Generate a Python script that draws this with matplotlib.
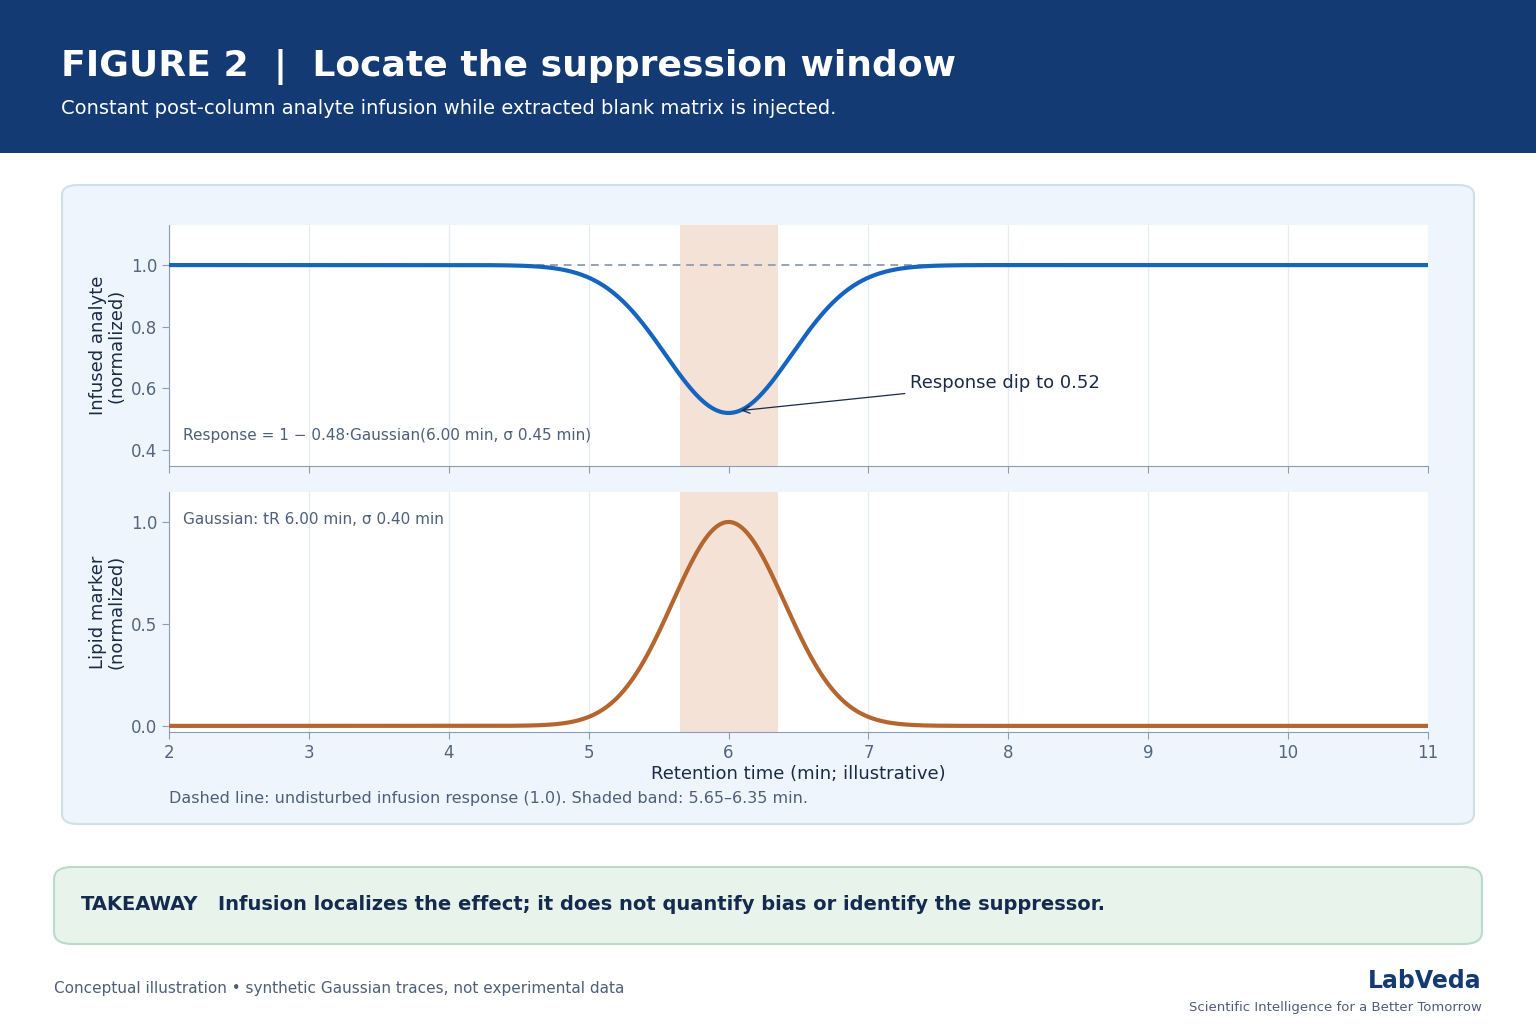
"""Figure 2: post-column infusion suppression window."""

import matplotlib

matplotlib.use("Agg")

import matplotlib.pyplot as plt
import numpy as np
from matplotlib.patches import FancyBboxPatch, Rectangle

# Trace parameters as stated on the chart.
DIP_CENTER = 6.00
DIP_SIGMA = 0.45
DIP_DEPTH = 0.48
LIPID_CENTER = 6.00
LIPID_SIGMA = 0.40
BAND = (5.65, 6.35)
BASELINE = 1.0
DIP_LABEL_VALUE = 0.52

X_TICKS = [2, 3, 4, 5, 6, 7, 8, 9, 10, 11]
TOP_YTICKS = [0.4, 0.6, 0.8, 1.0]
BOTTOM_YTICKS = [0.0, 0.5, 1.0]

NAVY = "#143A73"
INK = "#1B2A47"
MUTED = "#4E5F7A"
BLUE = "#1565C0"
COPPER = "#B5652E"
BAND_COLOR = "#F5E2D7"
SPINE = "#8B9CB6"
GRID = "#E6EBF1"

W, H = 1536, 1024


def px(x, y):
    """Pixel (top-left origin) to figure fraction."""
    return x / W, 1 - y / H


def gaussian(t, center, sigma):
    return np.exp(-0.5 * ((t - center) / sigma) ** 2)


t = np.linspace(X_TICKS[0], X_TICKS[-1], 900)
response = BASELINE - DIP_DEPTH * gaussian(t, DIP_CENTER, DIP_SIGMA)
lipid = gaussian(t, LIPID_CENTER, LIPID_SIGMA)

fig = plt.figure(figsize=(W / 100, H / 100), dpi=100)
fig.patch.set_facecolor("white")

# Header band.
fig.add_artist(Rectangle((0, 1 - 153 / H), 1, 153 / H, transform=fig.transFigure,
                         facecolor=NAVY, edgecolor="none", zorder=0))
fig.text(*px(61, 67), "FIGURE 2  |  Locate the suppression window", color="white",
         fontsize=26, fontweight="bold", va="center", ha="left")
fig.text(*px(61, 108), "Constant post-column analyte infusion while extracted blank matrix is injected.",
         color="white", fontsize=14, va="center", ha="left")

# Chart card.
x0, y0 = px(62, 824)
x1, y1 = px(1474, 185)
fig.add_artist(FancyBboxPatch((x0, y0), x1 - x0, y1 - y0, transform=fig.transFigure,
                              boxstyle="round,pad=0,rounding_size=0.01",
                              facecolor="#EEF5FC", edgecolor="#CFDFEC", lw=1.5, zorder=0))


def make_axes(top, bottom):
    l, b = px(169, bottom)
    r, t_ = px(1428, top)
    ax = fig.add_axes([l, b, r - l, t_ - b])
    ax.set_facecolor("white")
    for side in ("top", "right"):
        ax.spines[side].set_visible(False)
    for side in ("left", "bottom"):
        ax.spines[side].set_color(SPINE)
    ax.set_xlim(X_TICKS[0], X_TICKS[-1])
    ax.set_xticks(X_TICKS)
    ax.grid(axis="x", color=GRID, lw=0.9)
    ax.set_axisbelow(True)
    ax.tick_params(colors=SPINE, labelcolor="#55657E", labelsize=12, length=5)
    ax.axvspan(*BAND, color=BAND_COLOR, lw=0, zorder=1)
    return ax


ax_top = make_axes(225, 466)
ax_top.set_ylim(0.348, 1.13)
ax_top.set_yticks(TOP_YTICKS)
ax_top.set_yticklabels([f"{v:.1f}" for v in TOP_YTICKS])
ax_top.tick_params(axis="x", labelbottom=False)
ax_top.axhline(BASELINE, color="#94A3B8", lw=1.4, ls=(0, (4, 3)), zorder=2)
ax_top.plot(t, response, color=BLUE, lw=3, zorder=3, solid_capstyle="round")
ax_top.set_ylabel("Infused analyte\n(normalized)", fontsize=13, color=INK, linespacing=1.0)
ax_top.annotate(f"Response dip to {DIP_LABEL_VALUE:.2f}", xy=(6.07, 0.527), xytext=(7.3, 0.617),
                fontsize=13, color=INK, va="center", ha="left",
                arrowprops=dict(arrowstyle="->", color=INK, lw=0.9))
ax_top.text(0.011, 0.128, "Response = 1 \u2212 0.48\u00b7Gaussian(6.00 min, \u03c3 0.45 min)",
            transform=ax_top.transAxes, fontsize=11, color=MUTED, va="center", ha="left")

ax_bot = make_axes(492, 732)
ax_bot.set_ylim(-0.03, 1.147)
ax_bot.set_yticks(BOTTOM_YTICKS)
ax_bot.set_yticklabels([f"{v:.1f}" for v in BOTTOM_YTICKS])
ax_bot.plot(t, lipid, color=COPPER, lw=3, zorder=3, solid_capstyle="round")
ax_bot.set_ylabel("Lipid marker\n(normalized)", fontsize=13, color=INK, linespacing=1.0)
ax_bot.set_xlabel("Retention time (min; illustrative)", fontsize=13, color=INK, labelpad=2)
ax_bot.text(0.011, 0.885, "Gaussian: tR 6.00 min, \u03c3 0.40 min",
            transform=ax_bot.transAxes, fontsize=11, color=MUTED, va="center", ha="left")

fig.text(*px(169, 799), "Dashed line: undisturbed infusion response (1.0). Shaded band: 5.65\u20136.35 min.",
         fontsize=11.5, color=MUTED, va="center", ha="left")

# Takeaway box.
x0, y0 = px(54, 944)
x1, y1 = px(1482, 867)
fig.add_artist(FancyBboxPatch((x0, y0), x1 - x0, y1 - y0, transform=fig.transFigure,
                              boxstyle="round,pad=0,rounding_size=0.012",
                              facecolor="#E8F3EC", edgecolor="#B9DCC8", lw=1.5, zorder=0))
fig.text(*px(81, 905), "TAKEAWAY", fontsize=14, fontweight="bold", color="#142B4F",
         va="center", ha="left")
fig.text(*px(218, 905), "Infusion localizes the effect; it does not quantify bias or identify the suppressor.",
         fontsize=14, fontweight="bold", color="#142B4F", va="center", ha="left")

# Footer.
fig.text(*px(54, 989), "Conceptual illustration \u2022 synthetic Gaussian traces, not experimental data",
         fontsize=11, color=MUTED, va="center", ha="left")
fig.text(*px(1482, 981), "LabVeda", fontsize=17, fontweight="bold", color=NAVY,
         va="center", ha="right")
fig.text(*px(1482, 1007), "Scientific Intelligence for a Better Tomorrow", fontsize=9.5,
         color=MUTED, va="center", ha="right")

fig.savefig("out.png", dpi=100, facecolor=fig.get_facecolor())
